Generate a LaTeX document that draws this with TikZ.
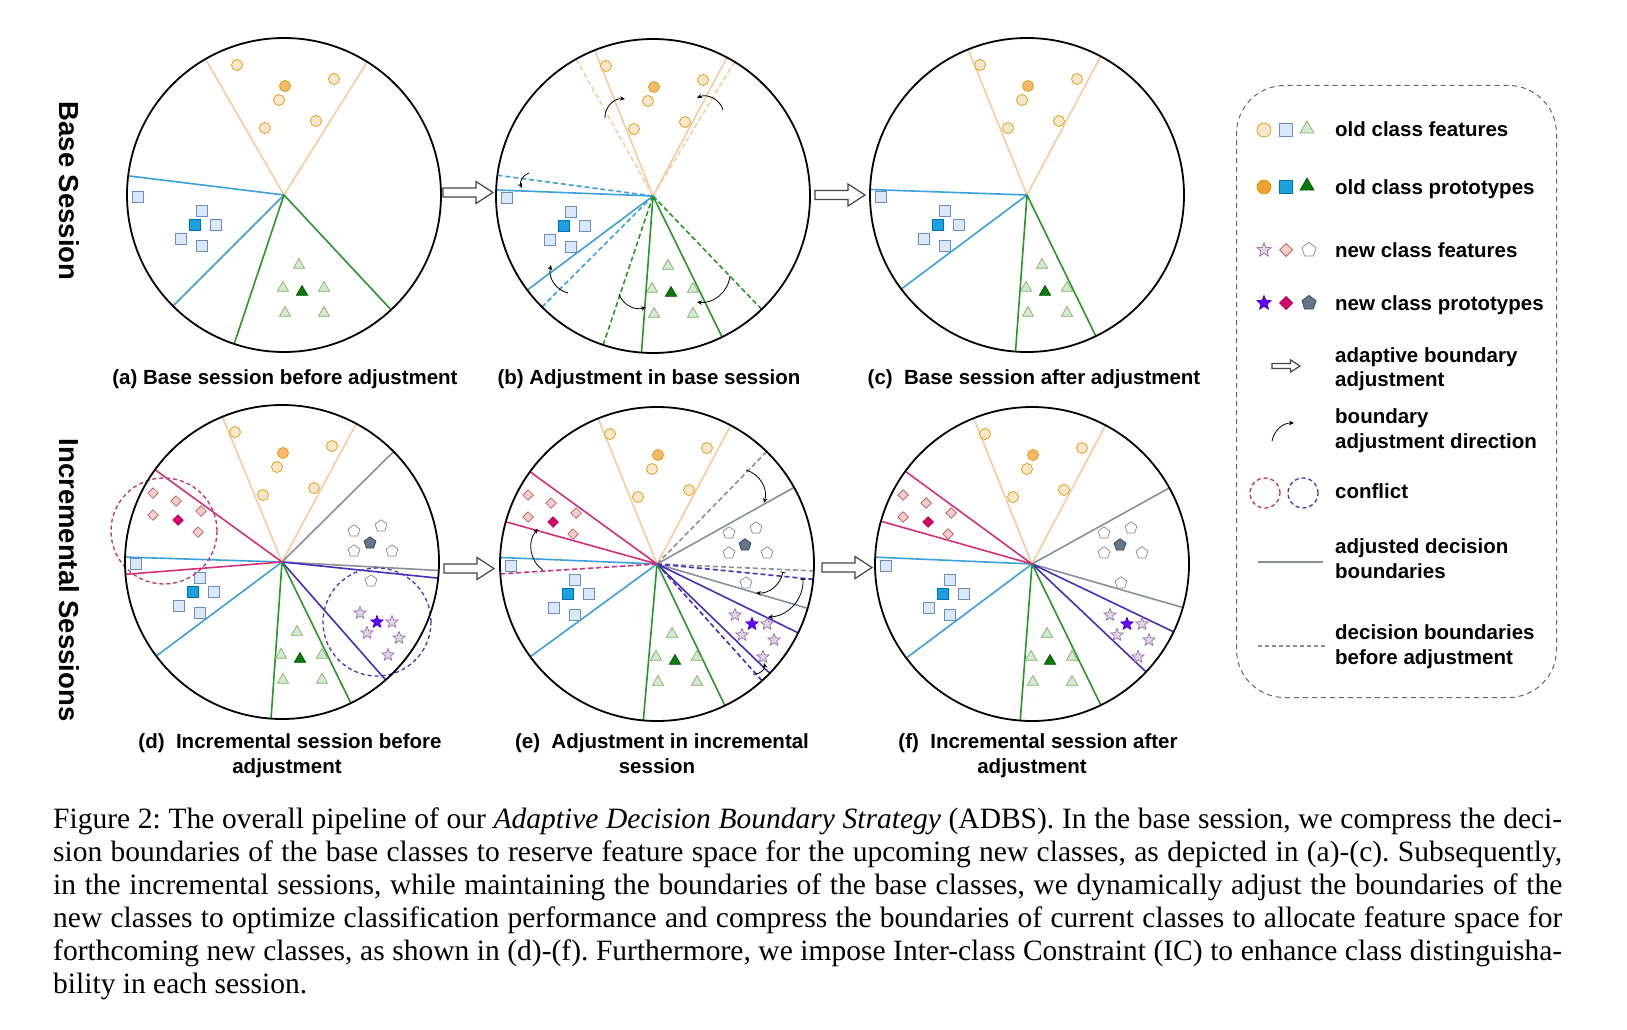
\documentclass[tikz,border=0pt]{standalone}
\usepackage{fontspec}
\setmainfont{Liberation Serif}
\newfontfamily\lsans{Liberation Sans}
\usetikzlibrary{shapes.geometric,arrows.meta}
\definecolor{ocfill}{HTML}{FFE6CC}
\definecolor{ocdraw}{HTML}{D79B00}
\definecolor{ocproto}{HTML}{F8B76A}
\definecolor{oclegproto}{HTML}{F0A030}
\definecolor{bsfill}{HTML}{DAE8FC}
\definecolor{bsdraw}{HTML}{6C8EBF}
\definecolor{bproto}{HTML}{1BA1E2}
\definecolor{bpdraw}{HTML}{006EAF}
\definecolor{gtfill}{HTML}{D5E8D4}
\definecolor{gtdraw}{HTML}{82B366}
\definecolor{gproto}{HTML}{0A7A0A}
\definecolor{gpdraw}{HTML}{005700}
\definecolor{pdfill}{HTML}{F8CECC}
\definecolor{pddraw}{HTML}{B85450}
\definecolor{pproto}{HTML}{D80073}
\definecolor{ppdraw}{HTML}{A50040}
\definecolor{pgdraw}{HTML}{888888}
\definecolor{pgproto}{HTML}{647687}
\definecolor{pgpdraw}{HTML}{314354}
\definecolor{stfill}{HTML}{E1D5E7}
\definecolor{stdraw}{HTML}{9673A6}
\definecolor{stproto}{HTML}{6A00FF}
\definecolor{stpdraw}{HTML}{3700CC}
\definecolor{orl}{HTML}{F5CDA0}
\definecolor{bll}{HTML}{3CA0DA}
\definecolor{grl}{HTML}{2A962A}
\definecolor{mgl}{HTML}{D3307A}
\definecolor{gyl}{HTML}{8A9099}
\definecolor{pul}{HTML}{4B2DBE}
\definecolor{mgc}{HTML}{C2306E}
\definecolor{puc}{HTML}{4A3AAE}
\definecolor{harrc}{HTML}{444444}
\definecolor{legc}{HTML}{666666}

\newcommand{\oldfeat}[1]{%
  \foreach \x/\y [count=\i] in {-47/130,-5/95,50/116,32/74,-19/67}{\node[fcirc] (#1o\i) at (\x,\y) {};}
  \node[pcirc] (#1op) at (1,109) {};
  \foreach \x/\y [count=\i] in {-146/-2,-82/-16,-68/-30,-103/-44,-82/-51}{\node[fsq] (#1b\i) at (\x,\y) {};}
  \node[psq] (#1bp) at (-89,-30) {};
  \foreach \x/\y [count=\i] in {15/-70,-1/-93,40/-93,1/-118,40/-118}{\node[ftri] (#1g\i) at (\x,\y) {};}
  \node[ptri] (#1gp) at (18,-97) {};
}
\newcommand{\newfeat}[1]{%
  \foreach \x/\y [count=\i] in {-129/69,-106/61,-81/51,-129/47,-84/30}{\node[fdia] (#1d\i) at (\x,\y) {};}
  \node[pdia] (#1dp) at (-104,42) {};
  \foreach \x/\y [count=\i] in {72/31,99/36,72/11,110/11,89/-19}{\node[fpent] (#1p\i) at (\x,\y) {};}
  \node[ppent] (#1pp) at (88,19) {};
  \foreach \x/\y [count=\i] in {78/-51,110/-60,85/-71,117/-76,106/-93}{\node[fstar] (#1s\i) at (\x,\y) {};}
  \node[pstar] (#1sp) at (95,-60) {};
}
\newcommand{\hollowarrow}[3]{%
  \draw[harr] (#1,#2) ++(0,4.5*#3) -- ++(33*#3,0) -- ++(0,6.5*#3) -- ++(17*#3,-11*#3)
    -- ++(-17*#3,-11*#3) -- ++(0,6.5*#3) -- ++(-33*#3,0) -- cycle;}

\begin{document}
\frenchspacing
\begin{tikzpicture}[x=1pt,y=1pt,
  mk/.style={inner sep=0pt,outer sep=0pt,line width=0.7pt},
  fcirc/.style={mk,circle,draw=ocdraw,fill=ocfill,minimum size=11pt},
  pcirc/.style={mk,circle,draw=ocdraw,fill=ocproto,minimum size=11pt},
  fsq/.style={mk,rectangle,draw=bsdraw,fill=bsfill,minimum size=10.5pt},
  psq/.style={mk,rectangle,draw=bpdraw,fill=bproto,minimum size=10.5pt},
  ftri/.style={mk,regular polygon,regular polygon sides=3,draw=gtdraw,fill=gtfill,minimum size=13pt},
  ptri/.style={mk,regular polygon,regular polygon sides=3,draw=gpdraw,fill=gproto,minimum size=13pt},
  fdia/.style={mk,diamond,draw=pddraw,fill=pdfill,minimum size=10.5pt},
  pdia/.style={mk,diamond,draw=ppdraw,fill=pproto,minimum size=10.5pt},
  fpent/.style={mk,regular polygon,regular polygon sides=5,draw=pgdraw,fill=white,minimum size=12.5pt},
  ppent/.style={mk,regular polygon,regular polygon sides=5,draw=pgpdraw,fill=pgproto,minimum size=12.5pt},
  fstar/.style={mk,star,star points=5,star point ratio=2.3,draw=stdraw,fill=stfill,minimum size=13pt},
  pstar/.style={mk,star,star points=5,star point ratio=2.3,draw=stpdraw,fill=stproto,minimum size=13pt},
  bnd/.style={line width=1.6pt},
  dsh/.style={dash pattern=on 5pt off 3pt},
  ball/.style={circle,draw=black,line width=1.8pt,minimum size=314pt,inner sep=0pt},
  carrow/.style={-{Stealth[length=5pt,width=4.5pt]},line width=0.8pt,black},
  harr/.style={draw=harrc,line width=1.2pt,fill=white},
  captxt/.style={font=\lsans\bfseries\fontsize{20.5}{25}\selectfont,inner sep=0pt,anchor=base},
  legtxt/.style={font=\lsans\bfseries\fontsize{20.5}{25}\selectfont,inner sep=0pt,anchor=base west},
  rowlab/.style={font=\lsans\bfseries\fontsize{27.5}{30}\selectfont,inner sep=0pt,rotate=-90},
  figt/.style={font=\frenchspacing\fontsize{29.5}{33}\selectfont,inner sep=0pt,anchor=base west},
  conf/.style={line width=1.3pt,dash pattern=on 4pt off 3pt},
]
\fill[white] (0,0) rectangle (1627,-1030);
\useasboundingbox (0,0) rectangle (1627,-1030);

% ---------- (a) ----------
\begin{scope}[shift={(284,-195)}]
  \draw[bnd,orl] (0,0) -- (120:157) (0,0) -- (58:157);
  \draw[bnd,bll] (0,0) -- (173:157) (0,0) -- (225:157);
  \draw[bnd,grl] (0,0) -- (251.5:157) (0,0) -- (313:157);
  \oldfeat{a}
  \node[ball] (ca) at (0,0) {};
\end{scope}

% ---------- (b) ----------
\begin{scope}[shift={(653,-196)}]
  \draw[bnd,orl,dsh] (0,0) -- (119.3:157) (0,0) -- (58.7:157);
  \draw[bnd,orl] (0,0) -- (111.8:157) (0,0) -- (61.9:157);
  \draw[bnd,bll,dsh] (0,0) -- (172.4:157) (0,0) -- (225:157);
  \draw[bnd,bll] (0,0) -- (177.8:157) (0,0) -- (216.8:157);
  \draw[bnd,grl,dsh] (0,0) -- (251.5:157) (0,0) -- (313.8:157);
  \draw[bnd,grl] (0,0) -- (265.8:157) (0,0) -- (296.1:157);
  \oldfeat{b}
  \draw[carrow] (-48,78) to[bend left=50] (-28,97);
  \draw[carrow] (70,86) to[bend right=50] (44,98);
  \draw[carrow] (-124,23) to[bend right=50] (-131,8);
  \draw[carrow] (-85,-97) to[bend left=45] (-102,-69);
  \draw[carrow] (-34,-98) to[bend right=45] (-7,-111);
  \draw[carrow] (77,-80) to[bend left=45] (44,-106);
  \node[ball] (cb) at (0,0) {};
\end{scope}

% ---------- (c) ----------
\begin{scope}[shift={(1027,-195)}]
  \draw[bnd,orl] (0,0) -- (112:157) (0,0) -- (62:157);
  \draw[bnd,bll] (0,0) -- (178:157) (0,0) -- (216.8:157);
  \draw[bnd,grl] (0,0) -- (265.8:157) (0,0) -- (296:157);
  \oldfeat{c}
  \node[ball] (cc) at (0,0) {};
\end{scope}

% ---------- (d) ----------
\begin{scope}[shift={(282,-562)}]
  \draw[bnd,orl] (0,0) -- (112.3:157) (0,0) -- (61.8:157);
  \draw[bnd,gyl] (0,0) -- (44.7:157) (0,0) -- (-3.1:157);
  \draw[bnd,pul] (0,0) -- (-5.9:157) (0,0) -- (-48.7:157);
  \draw[bnd,grl] (0,0) -- (266:157) (0,0) -- (296:157);
  \draw[bnd,bll] (0,0) -- (178.2:157) (0,0) -- (216.8:157);
  \draw[bnd,mgl] (0,0) -- (144:157) (0,0) -- (184.5:157);
  \oldfeat{d}
  \newfeat{d}
  \draw[conf,mgc] (-118,31) circle[radius=53];
  \draw[conf,puc] (95,-60) circle[radius=54];
  \node[ball] (cd) at (0,0) {};
\end{scope}

% ---------- (e) ----------
\begin{scope}[shift={(657,-564)}]
  \draw[bnd,orl] (0,0) -- (112:157) (0,0) -- (62:157);
  \draw[bnd,gyl,dsh] (0,0) -- (45.7:157) (0,0) -- (-2.5:157);
  \draw[bnd,gyl] (0,0) -- (29.2:157) (0,0) -- (-16.4:157);
  \draw[bnd,pul,dsh] (0,0) -- (-5.6:157) (0,0) -- (-48:157);
  \draw[bnd,pul] (0,0) -- (-26:157) (0,0) -- (-44.1:157);
  \draw[bnd,grl] (0,0) -- (265:157) (0,0) -- (295.6:157);
  \draw[bnd,bll] (0,0) -- (177.6:157) (0,0) -- (216.2:157);
  \draw[bnd,mgl,dsh] (0,0) -- (183.6:157);
  \draw[bnd,mgl] (0,0) -- (144:157) (0,0) -- (164.4:157);
  \oldfeat{e}
  \newfeat{e}
  \draw[carrow] (-114,-6) to[bend left=50] (-119,35);
  \draw[carrow] (89,94) to[bend left=45] (107,61);
  \draw[carrow,{Bar[width=5pt]}-{Stealth[length=5pt,width=4.5pt]}] (126,-8) to[bend left=40] (99,-29);
  \draw[carrow,{Bar[width=5pt]}-{Stealth[length=5pt,width=4.5pt]}] (146,-15) to[bend left=45] (111,-53);
  \draw[carrow] (96,-110) to[bend right=60] (107,-99);
  \node[ball] (ce) at (0,0) {};
\end{scope}

% ---------- (f) ----------
\begin{scope}[shift={(1032,-564)}]
  \draw[bnd,orl] (0,0) -- (111.8:157) (0,0) -- (62.1:157);
  \draw[bnd,gyl] (0,0) -- (29:157) (0,0) -- (-16.1:157);
  \draw[bnd,pul] (0,0) -- (-25.6:157) (0,0) -- (-43.4:157);
  \draw[bnd,grl] (0,0) -- (265.7:157) (0,0) -- (296:157);
  \draw[bnd,bll] (0,0) -- (177.5:157) (0,0) -- (216.8:157);
  \draw[bnd,mgl] (0,0) -- (143.8:157) (0,0) -- (164.2:157);
  \oldfeat{f}
  \newfeat{f}
  \node[ball] (cf) at (0,0) {};
\end{scope}

% ---------- hollow arrows ----------
\hollowarrow{443}{-192.5}{1}
\hollowarrow{815}{-195}{1}
\hollowarrow{444}{-568.5}{1}
\hollowarrow{822}{-567.5}{1}

% ---------- captions ----------
\node[captxt] (capa) at (285,-384) {(a) Base session before adjustment};
\node[captxt] (capb) at (649,-384) {(b) Adjustment in base session};
\node[captxt] (capc) at (1034,-384) {(c)~~Base session after adjustment};
\node[captxt] (capd1) at (290,-748) {(d)~~Incremental session before};
\node[captxt] (capd2) at (287,-773) {adjustment};
\node[captxt] (cape1) at (662,-748) {(e)~~Adjustment in incremental};
\node[captxt] (cape2) at (657,-773) {session};
\node[captxt] (capf1) at (1038,-748) {(f)~~Incremental session after};
\node[captxt] (capf2) at (1032,-773) {adjustment};

% ---------- row labels ----------
\node[rowlab] (rowbase) at (69,-191) {Base Session};
\node[rowlab] (rowinc) at (69,-580) {Incremental Sessions};

% ---------- legend ----------
\node[draw=legc,line width=1pt,dash pattern=on 5pt off 4pt,rounded corners=48pt,
      minimum width=320pt,minimum height=612pt,anchor=north west,inner sep=0pt] (legend) at (1236,-85) {};
\node[fcirc,minimum size=14pt] (l1a) at (1264,-130) {};
\node[fsq,minimum size=13pt] (l1b) at (1286,-130) {};
\node[ftri,minimum size=16pt] (l1c) at (1307,-129) {};
\node[pcirc,fill=oclegproto,minimum size=14pt] (l2a) at (1264,-187) {};
\node[psq,minimum size=13pt] (l2b) at (1286,-187) {};
\node[ptri,minimum size=16pt] (l2c) at (1307,-186) {};
\node[fstar,minimum size=15pt] (l3a) at (1264,-250) {};
\node[fdia,minimum size=13pt] (l3b) at (1286,-250) {};
\node[fpent,minimum size=15pt] (l3c) at (1309,-250) {};
\node[pstar,minimum size=15pt] (l4a) at (1264,-303) {};
\node[pdia,minimum size=13pt] (l4b) at (1286,-303) {};
\node[ppent,minimum size=15pt] (l4c) at (1309,-303) {};
\hollowarrow{1272}{-366}{0.56}
\coordinate (lca) at (1272,-441);
\coordinate (lcb) at (1294,-423);
\draw[carrow] (lca) to[bend left=40] (lcb);
\draw[conf,mgc] (1265,-493) circle[radius=15];
\draw[conf,puc] (1303,-493) circle[radius=15];
\coordinate (lsa) at (1258,-562);
\coordinate (lsb) at (1323,-562);
\draw[line width=1.5pt,gyl] (lsa) -- (lsb);
\coordinate (lda) at (1258,-646);
\coordinate (ldb) at (1326,-646);
\draw[line width=1.3pt,gyl,dash pattern=on 4pt off 3pt] (lda) -- (ldb);

\node[legtxt] (t1) at (1335,-137) {old class features};
\node[legtxt] (t2) at (1335,-194) {old class prototypes};
\node[legtxt] (t3) at (1335,-257) {new class features};
\node[legtxt] (t4) at (1335,-310) {new class prototypes};
\node[legtxt] (t5a) at (1335,-362) {adaptive boundary};
\node[legtxt] (t5b) at (1335,-386) {adjustment};
\node[legtxt] (t6a) at (1335,-423) {boundary};
\node[legtxt] (t6b) at (1335,-448) {adjustment direction};
\node[legtxt] (t7) at (1335,-498) {conflict};
\node[legtxt] (t8a) at (1335,-553) {adjusted decision};
\node[legtxt] (t8b) at (1335,-578) {boundaries};
\node[legtxt] (t9a) at (1335,-639) {decision boundaries};
\node[legtxt] (t9b) at (1335,-664) {before adjustment};

% ---------- figure caption ----------
\node[figt] (fc1) at (53,-828) {\makebox[1509pt][s]{Figure 2: The overall pipeline of our \textit{Adaptive Decision Boundary Strategy} (ADBS). In the base session, we compress the deci-}};
\node[figt] (fc2) at (53,-861) {\makebox[1509pt][s]{sion boundaries of the base classes to reserve feature space for the upcoming new classes, as depicted in (a)-(c). Subsequently,}};
\node[figt] (fc3) at (53,-894) {\makebox[1509pt][s]{in the incremental sessions, while maintaining the boundaries of the base classes, we dynamically adjust the boundaries of the}};
\node[figt] (fc4) at (53,-927) {\makebox[1509pt][s]{new classes to optimize classification performance and compress the boundaries of current classes to allocate feature space for}};
\node[figt] (fc5) at (53,-960) {\makebox[1509pt][s]{forthcoming new classes, as shown in (d)-(f). Furthermore, we impose Inter-class Constraint (IC) to enhance class distinguisha-}};
\node[figt] (fc6) at (53,-993) {bility in each session.};
\end{tikzpicture}
\end{document}
